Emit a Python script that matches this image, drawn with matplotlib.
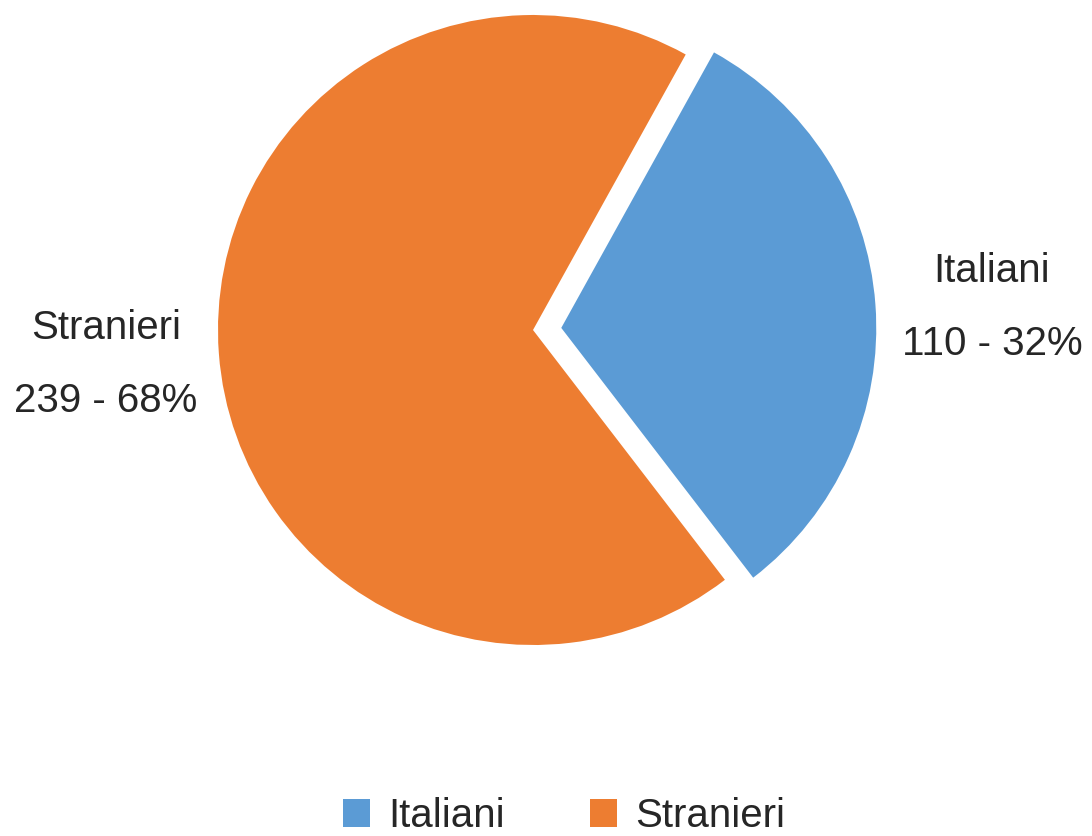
import matplotlib.pyplot as plt
from matplotlib.patches import Patch

categories = ["Italiani", "Stranieri"]
counts = [110, 239]
colors = ["#5B9BD5", "#ED7D31"]

W, H = 1092, 836
R_PX = 315.0
CX, CY = 533.0, 330.0  # pie centre, pixels from top-left

plt.rcParams["font.family"] = ["Liberation Sans", "DejaVu Sans"]

fig = plt.figure(figsize=(W / 100, H / 100), dpi=100)
ax = fig.add_axes([0, 0, 1, 1])
ax.pie(
    counts,
    colors=colors,
    startangle=61,
    counterclock=False,
    explode=[0.09, 0.0],
    radius=1.0,
    wedgeprops=dict(linewidth=0),
)
ax.set_xlim(-CX / R_PX, (W - CX) / R_PX)
ax.set_ylim(-(H - CY) / R_PX, CY / R_PX)
ax.set_aspect("equal")
ax.axis("off")

total = sum(counts)
label_pos = {"Italiani": (992, 282), "Stranieri": (106, 339)}
for cat, val in zip(categories, counts):
    pct = round(100 * val / total)
    x, y = label_pos[cat]
    fig.text(x / W, 1 - y / H, cat, ha="center", va="baseline", fontsize=29, color="#262626")
    fig.text(x / W, 1 - (y + 73) / H, f"{val} - {pct}%", ha="center", va="baseline",
             fontsize=29, color="#262626")

handles = [Patch(facecolor=c, edgecolor="none", label=l) for c, l in zip(colors, categories)]
fig.legend(handles=handles, loc="center", bbox_to_anchor=(564 / W, 1 - 816 / H), ncol=2,
           frameon=False, fontsize=29, handlelength=0.68, handleheight=0.68,
           handletextpad=0.45, columnspacing=2.1, labelcolor="#262626",
           borderpad=0, borderaxespad=0)

fig.savefig("out.png", dpi=100)
